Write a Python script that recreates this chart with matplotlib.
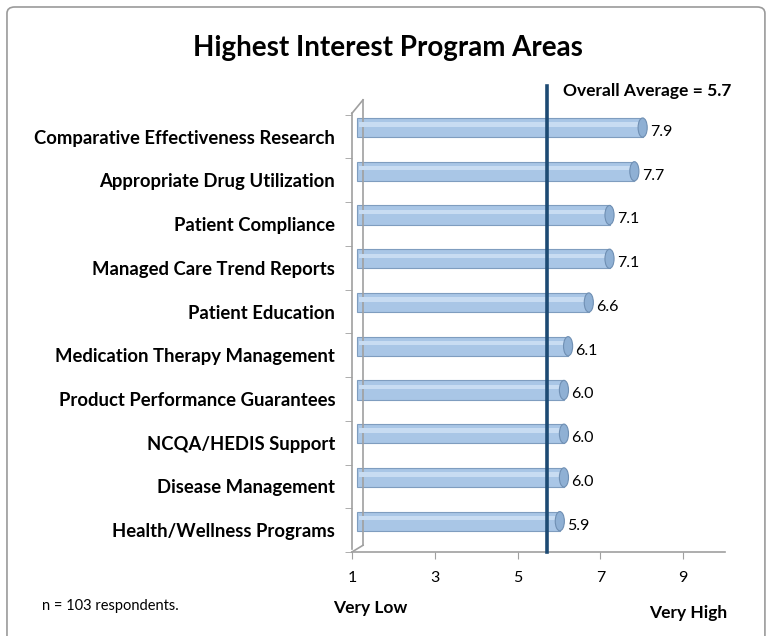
import numpy as np
import matplotlib
matplotlib.use("Agg")
import matplotlib.pyplot as plt
from matplotlib.patches import Ellipse, FancyBboxPatch
from matplotlib.lines import Line2D
import matplotlib.transforms as mtransforms

# data, bottom to top
programs = ["Health/Wellness Programs", "Disease Management", "NCQA/HEDIS Support",
            "Product Performance Guarantees", "Medication Therapy Management",
            "Patient Education", "Managed Care Trend Reports", "Patient Compliance",
            "Appropriate Drug Utilization", "Comparative Effectiveness Research"]
scores = [5.9, 6.0, 6.0, 6.0, 6.1, 6.6, 7.1, 7.1, 7.7, 7.9]
overall_avg = 5.7
xticks = [1, 3, 5, 7, 9]

plt.rcParams["font.family"] = ["Lato", "DejaVu Sans"]

fig = plt.figure(figsize=(7.75, 6.36), dpi=100)
ax = fig.add_axes([0.454, 0.132, 0.481, 0.711])

# 3d look: bars sit a bit behind / above the front axis
shift = mtransforms.ScaledTranslation(5 / 100, 9 / 100, fig.dpi_scale_trans)
tr = ax.transData + shift

y = np.arange(len(programs))
h = 0.44
face = "#a9c6e6"
edge = "#7f9dbf"
ax.barh(y, np.array(scores) - 1, left=1, height=h, color=face, edgecolor=edge,
        linewidth=0.8, transform=tr, zorder=2)
# highlight stripe
ax.barh(y + 0.07, np.array(scores) - 1.1, left=1.05, height=0.1, color="#c8dcf2",
        linewidth=0, transform=tr, zorder=3)
for yi, s in zip(y, scores):
    ax.add_patch(Ellipse((s, yi), 0.22, h, facecolor="#8fb0d4", edgecolor="#6f8fb3",
                         linewidth=0.8, transform=tr, zorder=4))
    ax.text(s + 0.18, yi - 0.1, f"{s:.1f}", va="center", ha="left", fontsize=11.5,
            transform=tr, zorder=5)

ax.axvline(overall_avg, color="#1d4a73", linewidth=2.6, ymin=0, ymax=1.03,
           clip_on=False, zorder=6)
ax.text(overall_avg + 0.4, 10.05, f"Overall Average = {overall_avg}", fontsize=12.5,
        fontweight="bold", va="center", ha="left")

ax.set_xlim(1, 10)
ax.set_ylim(-0.43, 9.84)
ax.set_xticks(xticks)
ax.set_xticklabels([str(t) for t in xticks], fontsize=11.5)
ax.tick_params(axis="x", length=5, color="#a0a0a0", pad=9)
ax.set_yticks(y)
ax.set_yticklabels(programs, fontsize=13.3, fontweight="bold")
ax.tick_params(axis="y", length=0, pad=12)
ax.set_yticks(np.arange(-0.5, 10, 1), minor=True)
ax.tick_params(axis="y", which="minor", length=5, color="#a0a0a0")

for sp in ["top", "right"]:
    ax.spines[sp].set_visible(False)
for sp in ["left", "bottom"]:
    ax.spines[sp].set_color("#a0a0a0")
    ax.spines[sp].set_linewidth(1.2)
ax.spines["left"].set_bounds(-0.43, 9.55)

# back wall edge
for xs, ys in [([0.0, 0.03], [0.97, 1.0]), ([0.03, 0.03], [0.015, 1.0]), ([0.0, 0.03], [0.0, 0.015])]:
    ax.add_line(Line2D(xs, ys, transform=ax.transAxes, color="#a0a0a0", lw=1.2, clip_on=False))

fig.text(0.50, 0.925, "Highest Interest Program Areas", ha="center", va="center",
         fontsize=20, fontweight="bold")
fig.text(0.478, 0.044, "Very Low", ha="center", va="center", fontsize=12.5, fontweight="bold")
fig.text(0.888, 0.036, "Very High", ha="center", va="center", fontsize=12.5, fontweight="bold")
fig.text(0.054, 0.047, "n = 103 respondents.", ha="left", va="center", fontsize=10.5)

fig.patches.append(FancyBboxPatch((0.009, -0.02), 0.978, 1.009, boxstyle="round,pad=0,rounding_size=0.01",
                                  transform=fig.transFigure, fill=False, edgecolor="#9a9a9a", lw=1.2))

fig.savefig("out.png", dpi=100)
